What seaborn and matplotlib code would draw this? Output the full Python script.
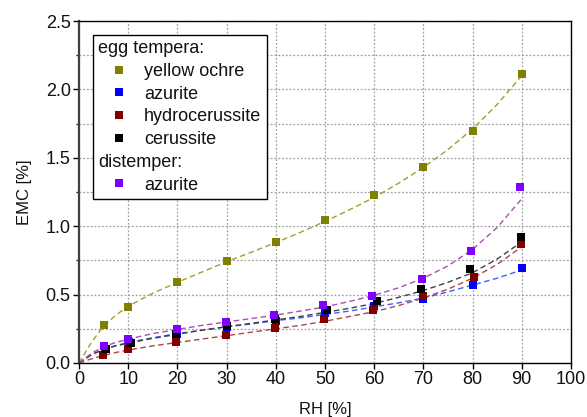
import matplotlib
matplotlib.use("Agg")
import matplotlib.pyplot as plt
import seaborn as sns
import pandas as pd
from matplotlib.lines import Line2D
from matplotlib.ticker import MultipleLocator, FormatStrFormatter

sns.set_theme(style="white")
plt.rcParams['font.family'] = ['Liberation Sans', 'DejaVu Sans']

# measured points (RH [%], EMC [%])
ochre_rh = [5, 10, 20, 30, 40, 50, 60, 70, 80, 90]
ochre_emc = [0.28, 0.41, 0.595, 0.745, 0.885, 1.045, 1.225, 1.435, 1.695, 2.11]
azur_rh = [5.3, 10.2, 20, 30, 40, 50, 60, 70, 80.1, 90]
azur_emc = [0.10, 0.15, 0.215, 0.265, 0.31, 0.362, 0.415, 0.468, 0.57, 0.694]
hydro_rh = [4.9, 9.9, 19.8, 29.8, 39.8, 49.9, 59.7, 69.9, 80.2, 89.9]
hydro_emc = [0.058, 0.10, 0.153, 0.205, 0.256, 0.32, 0.385, 0.49, 0.63, 0.87]
ceru_rh = [5.5, 10.6, 19.8, 30.1, 39.8, 50.4, 60.5, 69.6, 79.4, 89.8]
ceru_emc = [0.10, 0.146, 0.21, 0.27, 0.32, 0.387, 0.453, 0.54, 0.687, 0.92]
dist_rh = [5.1, 9.9, 20, 29.9, 39.6, 49.6, 59.6, 69.8, 79.7, 89.7]
dist_emc = [0.124, 0.175, 0.25, 0.30, 0.35, 0.424, 0.49, 0.614, 0.82, 1.285]

# fitted curves
fit_rh = [0, 2.5, 5, 7.5, 10, 15, 20, 25, 30, 35, 40, 45, 50, 55, 60, 65, 70, 75, 80, 85, 90]
ochre_fit = [0, 0.15, 0.27, 0.35, 0.415, 0.51, 0.59, 0.665, 0.74, 0.81, 0.88, 0.955,
             1.035, 1.12, 1.21, 1.315, 1.43, 1.56, 1.71, 1.89, 2.1]
azur_fit = [0, 0.06, 0.10, 0.128, 0.15, 0.185, 0.215, 0.24, 0.265, 0.285, 0.31, 0.33,
            0.355, 0.38, 0.41, 0.44, 0.475, 0.52, 0.57, 0.62, 0.68]
hydro_fit = [0, 0.03, 0.055, 0.077, 0.095, 0.125, 0.15, 0.175, 0.20, 0.225, 0.25, 0.275,
             0.305, 0.34, 0.375, 0.42, 0.475, 0.54, 0.62, 0.72, 0.85]
ceru_fit = [0, 0.06, 0.10, 0.125, 0.145, 0.18, 0.21, 0.24, 0.265, 0.29, 0.315, 0.34,
            0.37, 0.40, 0.435, 0.48, 0.53, 0.59, 0.66, 0.76, 0.885]
dist_fit = [0, 0.07, 0.12, 0.15, 0.175, 0.215, 0.245, 0.275, 0.30, 0.325, 0.35, 0.38,
            0.41, 0.45, 0.495, 0.55, 0.62, 0.71, 0.83, 0.99, 1.2]

series = [
    ("yellow ochre", ochre_rh, ochre_emc, ochre_fit, "#808000", "#a0a030"),
    ("azurite", azur_rh, azur_emc, azur_fit, "#0000ff", "#4060ff"),
    ("hydrocerussite", hydro_rh, hydro_emc, hydro_fit, "#800000", "#a84848"),
    ("cerussite", ceru_rh, ceru_emc, ceru_fit, "#000000", "#404040"),
    ("distemper azurite", dist_rh, dist_emc, dist_fit, "#8000ff", "#a850b0"),
]

fig = plt.figure(figsize=(5.87, 4.17), dpi=100)
ax = fig.add_axes([0.1346, 0.1295, 0.838, 0.8201])

for name, rh, emc, fit, mcol, lcol in series:
    fit_df = pd.DataFrame({"RH": fit_rh, "EMC": fit})
    sns.lineplot(data=fit_df, x="RH", y="EMC", ax=ax, color=lcol, lw=1.0,
                 linestyle=(0, (4, 2.5)), estimator=None, sort=False, zorder=2)
for name, rh, emc, fit, mcol, lcol in series:
    pts = pd.DataFrame({"RH": rh, "EMC": emc})
    sns.scatterplot(data=pts, x="RH", y="EMC", ax=ax, color=mcol, marker="s",
                    s=32, linewidth=0, zorder=3)

ax.set_xlim(0, 100)
ax.set_ylim(0, 2.5)
ax.xaxis.set_major_locator(MultipleLocator(10))
ax.yaxis.set_major_locator(MultipleLocator(0.5))
ax.yaxis.set_minor_locator(MultipleLocator(0.25))
ax.yaxis.set_major_formatter(FormatStrFormatter('%.1f'))
ax.tick_params(axis="both", which="major", direction="out", length=4, width=1,
               labelsize=13, color="black", labelcolor="#111111", left=True, bottom=True, pad=2)
ax.tick_params(axis="y", which="minor", direction="out", length=2.5, width=1, left=True)
ax.grid(True, which="both", axis="y", color="#a0a0a0", linestyle=(0, (1.5, 1.5)), lw=0.9)
ax.grid(True, which="major", axis="x", color="#a0a0a0", linestyle=(0, (1.5, 1.5)), lw=0.9)
for sp in ax.spines.values():
    sp.set_color("black")
    sp.set_linewidth(1.0)
ax.spines["left"].set_color("#404040")
ax.spines["left"].set_linewidth(1.6)
ax.set_xlabel("RH [%]", fontsize=12, color="#111111", labelpad=9.5)
ax.set_ylabel("EMC [%]", fontsize=12, color="#111111", labelpad=10)

blank = Line2D([], [], linestyle="none", marker=None)
def mk(c):
    return Line2D([], [], linestyle="none", marker="s", markersize=5.5,
                  markerfacecolor=c, markeredgewidth=0)
handles = [blank, mk("#808000"), mk("#0000ff"), mk("#800000"), mk("#000000"),
           blank, mk("#8000ff")]
labels = ["egg tempera:", "yellow ochre", "azurite", "hydrocerussite", "cerussite",
          "distemper:", "azurite"]
leg = ax.legend(handles, labels, loc="upper left", bbox_to_anchor=(0.028, 0.96),
                borderaxespad=0, fontsize=13, frameon=True, fancybox=False,
                edgecolor="black", framealpha=1, handlelength=2.3, handletextpad=0.25,
                labelspacing=0.32, borderpad=0.3)
leg.get_frame().set_linewidth(1.0)
for t in leg.get_texts():
    t.set_color("#111111")

# pull the two group headers to the left edge of the box
rows = leg._legend_handle_box.get_children()[0].get_children()
for i in (0, 5):
    hp = rows[i]
    hp.get_children()[0].width = 0
    hp.sep = 0

fig.savefig("out.png", dpi=100)
